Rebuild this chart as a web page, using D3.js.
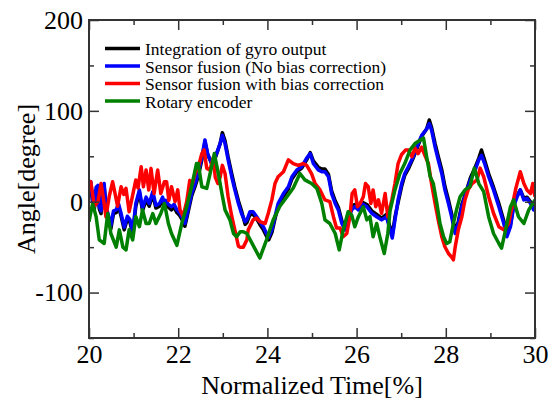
<!doctype html>
<html>
<head>
<meta charset="utf-8">
<title>Angle vs normalized time</title>
<script src="https://d3js.org/d3.v7.min.js"></script>
</head>
<style>
  body { margin: 0; background: #fff; }
  svg { display: block; }
  text { font-family: "Liberation Serif", "DejaVu Serif", serif; fill: #000; }
</style>
<body>
<script>

// series names (legend order)
var seriesNames = ["Integration of gyro output", "Sensor fusion (No bias correction)", "Sensor fusion with bias correction", "Rotary encoder"];
var seriesColors = ["#000000", "#0000ff", "#ff0000", "#008000"];

// gyro / fusion (no bias) share the same time stamps
var gyroTime = [20.0,20.04,20.08,20.12,20.16,20.2,20.23,20.27,20.31,20.34,20.38,20.42,20.46,20.49,20.55,20.61,20.66,20.72,20.79,20.86,20.92,20.98,21.05,21.13,21.2,21.28,21.35,21.43,21.5,21.58,21.65,21.69,21.72,21.78,21.85,21.91,21.97,22.03,22.08,22.15,22.22,22.3,22.38,22.45,22.53,22.6,22.66,22.75,22.83,22.94,22.99,23.05,23.12,23.2,23.27,23.35,23.42,23.5,23.54,23.61,23.68,23.76,23.83,23.91,23.98,24.03,24.1,24.17,24.24,24.36,24.47,24.55,24.66,24.77,24.88,24.96,25.03,25.14,25.22,25.29,25.37,25.44,25.52,25.59,25.67,25.74,25.81,25.89,25.96,26.04,26.11,26.23,26.34,26.45,26.56,26.67,26.75,26.8,26.86,26.93,27.01,27.08,27.16,27.27,27.38,27.46,27.57,27.63,27.68,27.76,27.83,27.91,27.98,28.06,28.13,28.21,28.28,28.36,28.43,28.5,28.55,28.66,28.74,28.8,28.87,28.96,29.07,29.19,29.3,29.37,29.45,29.52,29.6,29.67,29.75,29.82,29.9,29.97,30.0];

var gyroAngle = [17,19,-1,-8,13,15,-8,-13,12,17,-8,-15,-23,-30,-13,-12,-5,-16,-31,-19,-23,-36,-5,10,-10,2,-5,8,-7,-5,2,-5,-2,-6,-9,-6,-12,-15,-19,-27,-12,6,17,28,46,66,52,42,48,64,76,67,49,31,16,1,-10,-25,-23,-14,-14,-19,-25,-31,-38,-42,-34,-19,-5,6,14,25,33,37,46,54,45,38,36,36,30,12,1,-6,-21,-28,-17,-6,-3,-6,0,-3,-10,-14,-18,-14,-28,-37,-17,-1,17,29,36,48,62,72,80,90,82,64,50,35,17,2,-13,-32,-22,-3,7,18,26,38,48,57,46,31,16,-2,-21,-36,-25,-4,7,13,4,5,0,-6,-3];

var fusionAngle = [20,22,2,-5,16,18,-5,-10,15,20,-5,-12,-20,-26,-10,-9,-2,-13,-28,-16,-20,-33,-2,13,-7,5,-2,11,-4,-2,5,-2,1.5,-3,-5.5,-3,-9,-12,-16.5,-24,-9,9,20,31,49,68,53,42,49,64,73,64,46,27.5,13,-2,-13,-22,-20,-11,-11,-16.5,-22,-27.5,-35,-39,-31,-16.5,-2,9,16.5,27.5,35,38.5,48,53,42,35,33,33,27.5,9,-2,-9,-24,-31,-20,-9,-5.5,-9,-2,-5.5,-12.7,-16.5,-20,-16.5,-31,-40,-20,2,20,31,38.5,49.5,64,73,80,86,79,60,46,31,13,-2,-16.5,-35,-24,-5,5.5,16.5,24,35,46,51,42,27.5,13,-5.5,-24,-38.5,-27.5,-5.5,5.5,13,2,3.7,-2,-9,-5];

// sensor fusion with bias correction
var biasTime = [20.0,20.04,20.12,20.2,20.27,20.32,20.38,20.45,20.53,20.58,20.64,20.72,20.78,20.83,20.9,20.97,21.05,21.1,21.17,21.22,21.28,21.34,21.39,21.46,21.54,21.61,21.69,21.74,21.79,21.85,21.93,21.99,22.04,22.11,22.19,22.26,22.32,22.38,22.45,22.53,22.58,22.64,22.71,22.79,22.83,22.89,22.94,22.99,23.05,23.12,23.2,23.27,23.35,23.39,23.46,23.54,23.57,23.68,23.76,23.83,23.95,24.02,24.1,24.17,24.24,24.36,24.47,24.58,24.69,24.8,24.88,24.99,25.07,25.18,25.29,25.4,25.48,25.55,25.63,25.7,25.78,25.85,25.9,25.96,26.02,26.08,26.15,26.2,26.26,26.32,26.37,26.43,26.49,26.56,26.64,26.7,26.79,26.86,26.93,27.01,27.1,27.16,27.24,27.31,27.38,27.46,27.53,27.61,27.68,27.76,27.83,27.91,27.98,28.06,28.13,28.17,28.21,28.28,28.36,28.43,28.5,28.59,28.7,28.77,28.85,28.96,29.07,29.19,29.3,29.41,29.5,29.57,29.67,29.75,29.82,29.9,29.95,30.0];

var biasAngle = [20,22,-5,0,20,5,-16.5,5,22,10,-5,16.5,8,14.7,-11,5,24,15,38.5,16.5,35,13,36.7,9,35,9,22,22,1.5,16.5,0,13,-9,-16,0,23.5,20,31,38,53,57,36.7,35,49,27,20,27,40,31,5.5,-16,-31,-49,-50,-50,-42,-31,-20,-18,-22,-24,-12.7,2,20,27.5,33,46,42,40,42,40,31,20,13,2,0,-16.5,-29,-29,-38.5,-35,-16.5,9,13,-5.5,-2,5.5,20,16.5,-2,13,-5.5,2,-12.7,9,-16.5,2,20,42,52,57,57,49.5,59,53,60,51,42,20,-2,-20,-38.5,-49.5,-57,-61,-64,-50,-31,-16.5,2,13,20,24,37,27.5,5.5,-12.7,-27.5,-31,-24,-2,14.7,33,20,13,9,20,5.5];

// rotary encoder
var encoderTime = [20.0,20.08,20.16,20.23,20.34,20.42,20.49,20.61,20.68,20.76,20.83,20.9,20.98,21.05,21.13,21.2,21.28,21.35,21.43,21.5,21.61,21.69,21.72,21.78,21.85,21.97,22.08,22.19,22.3,22.41,22.45,22.53,22.64,22.75,22.81,22.9,22.98,23.05,23.16,23.24,23.31,23.39,23.46,23.54,23.68,23.83,23.98,24.13,24.28,24.43,24.58,24.73,24.84,24.99,25.11,25.22,25.29,25.4,25.52,25.61,25.7,25.81,25.89,25.96,26.04,26.15,26.23,26.3,26.37,26.45,26.52,26.62,26.7,26.75,26.86,26.97,27.08,27.2,27.31,27.43,27.5,27.57,27.65,27.72,27.8,27.87,27.95,28.02,28.09,28.17,28.24,28.32,28.43,28.54,28.64,28.74,28.85,28.96,29.07,29.19,29.25,29.34,29.45,29.52,29.63,29.75,29.86,30.0];

var encoderAngle = [-22,-2,-16.5,-42,-46,-13,-35,-50,-31,-50,-53,-31,-42,-16.5,-27.5,-9,-24,-24,-13,-24,-13,-2,-9,-24,-35,-48,-24,-5.5,16.5,42,42,16.5,14.7,38.5,53,31,9,-9,-20,-35,-38.5,-33,-33,-35,-48,-62,-42,-20,-5,5,15,31,24,20,14.7,-2,-20,-24,-35,-53,-31,-11,-14.7,-27.5,-16.5,-5.5,-20,-16.5,-38.5,-24,-38.5,-57,-35,-10,13,31,42,57,64,68,70,49.5,27.5,20,-2,-24,-38.5,-46,-44,-24,-9,5.5,13,16.5,37,20,11,-16.5,-35,-46,-51,-31,-5.5,2,-16.5,-24,-9,2];

var xTicks = [20, 22, 24, 26, 28, 30];
var xMinorTicks = [21, 23, 25, 27, 29];
var yTicks = [-100, 0, 100, 200];
var yMinorTicks = [-150, -50, 50, 150];

var width = 557, height = 401;
var margin = {left: 89, right: 535, top: 20, bottom: 338};

var svg = d3.select("body").append("svg").attr("width", width).attr("height", height);

var x = d3.scaleLinear().domain([20, 30]).range([margin.left, margin.right]);
var y = d3.scaleLinear().domain([-150, 200]).range([margin.bottom, margin.top]);

svg.append("clipPath").attr("id", "plotclip")
  .append("rect").attr("x", margin.left).attr("y", margin.top)
  .attr("width", margin.right - margin.left).attr("height", margin.bottom - margin.top);

function makeSeries(ts, vs) {
  return ts.map(function(t, i) { return {t: t, v: vs[i]}; });
}

var series = [
  makeSeries(gyroTime, gyroAngle),
  makeSeries(gyroTime, fusionAngle),
  makeSeries(biasTime, biasAngle),
  makeSeries(encoderTime, encoderAngle)
];

var line = d3.line().x(function(d) { return x(d.t); }).y(function(d) { return y(d.v); });

var plot = svg.append("g").attr("clip-path", "url(#plotclip)");
series.forEach(function(s, i) {
  plot.append("path").datum(s)
    .attr("fill", "none")
    .attr("stroke", seriesColors[i])
    .attr("stroke-width", 3.5)
    .attr("stroke-linejoin", "round")
    .attr("d", line);
});

// plain hyphen for negative labels, as in the original
var plainFormat = function(d) { return String(d); };

// axes, ticks pointing inward on all four sides
function styleAxis(g) {
  g.select(".domain").remove();
  g.selectAll("line").attr("stroke", "#333").attr("stroke-width", 1.5);
  g.selectAll("text").style("font-family", "Liberation Serif").style("font-size", "26px").attr("fill", "#000");
}

svg.append("g").attr("transform", "translate(0," + margin.bottom + ")")
  .call(d3.axisBottom(x).tickValues(xTicks).tickSize(-10).tickPadding(7).tickFormat(plainFormat))
  .call(styleAxis);
svg.append("g").attr("transform", "translate(0," + margin.bottom + ")")
  .call(d3.axisBottom(x).tickValues(xMinorTicks).tickSize(-5).tickFormat(""))
  .call(styleAxis);
svg.append("g").attr("transform", "translate(0," + margin.top + ")")
  .call(d3.axisTop(x).tickValues(xTicks).tickSize(-10).tickFormat(""))
  .call(styleAxis);
svg.append("g").attr("transform", "translate(0," + margin.top + ")")
  .call(d3.axisTop(x).tickValues(xMinorTicks).tickSize(-5).tickFormat(""))
  .call(styleAxis);

svg.append("g").attr("transform", "translate(" + margin.left + ",0)")
  .call(d3.axisLeft(y).tickValues(yTicks).tickSize(-10).tickPadding(6).tickFormat(plainFormat))
  .call(styleAxis);
svg.append("g").attr("transform", "translate(" + margin.left + ",0)")
  .call(d3.axisLeft(y).tickValues(yMinorTicks).tickSize(-5).tickFormat(""))
  .call(styleAxis);
svg.append("g").attr("transform", "translate(" + margin.right + ",0)")
  .call(d3.axisRight(y).tickValues(yTicks).tickSize(-10).tickFormat(""))
  .call(styleAxis);
svg.append("g").attr("transform", "translate(" + margin.right + ",0)")
  .call(d3.axisRight(y).tickValues(yMinorTicks).tickSize(-5).tickFormat(""))
  .call(styleAxis);

svg.append("rect")
  .attr("x", margin.left).attr("y", margin.top)
  .attr("width", margin.right - margin.left).attr("height", margin.bottom - margin.top)
  .attr("fill", "none").attr("stroke", "#333").attr("stroke-width", 2);

// axis titles
svg.append("text")
  .attr("x", (margin.left + margin.right) / 2).attr("y", 394)
  .attr("text-anchor", "middle")
  .style("font-size", "26px")
  .text("Normalized Time[%]");

svg.append("text")
  .attr("transform", "translate(35," + ((margin.top + margin.bottom) / 2) + ") rotate(-90)")
  .attr("text-anchor", "middle")
  .style("font-size", "26px")
  .text("Angle[degree]");

// legend
var legend = svg.append("g");
seriesNames.forEach(function(name, i) {
  var ly = 48.5 + i * 17.5;
  legend.append("line")
    .attr("x1", 105).attr("x2", 140).attr("y1", ly).attr("y2", ly)
    .attr("stroke", seriesColors[i]).attr("stroke-width", 3.5);
  legend.append("text")
    .attr("x", 145).attr("y", ly + 6.5)
    .style("font-size", "17.5px")
    .text(name);
});

</script>
</body>
</html>
